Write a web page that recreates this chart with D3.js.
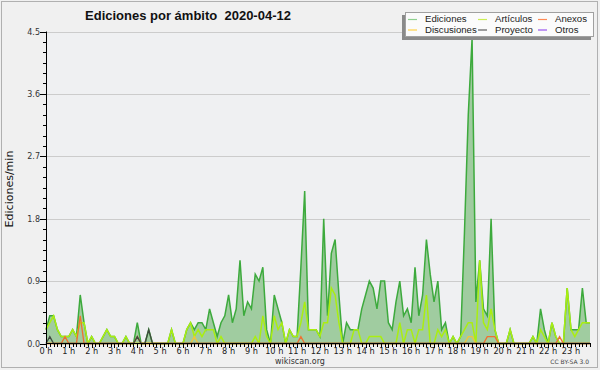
<!DOCTYPE html>
<html>
<head>
<meta charset="utf-8">
<script src="https://cdn.jsdelivr.net/npm/d3@7"></script>
<style>
  html, body { margin: 0; padding: 0; background: #f0f0f0; }
  svg { display: block; }
</style>
</head>
<body>
<svg id="chart" width="600" height="370"></svg>
<script>
// ---- data (edits per minute, 10-minute buckets, 144 per day) ----
const hourLabels = ["0 h","1 h","2 h","3 h","4 h","5 h","6 h","7 h","8 h","9 h","10 h","11 h","12 h","13 h","14 h","15 h","16 h","17 h","18 h","19 h","20 h","21 h","22 h","23 h"];
const yTicks = [0, 0.9, 1.8, 2.7, 3.6, 4.5];

const ediciones = [
0.2,0.4,0.4,0.2,0.1,0.1,0.1,0.2,0.1,0.7,0.3,0,
0.1,0,0,0.1,0.2,0.1,0.1,0,0,0.1,0,0,
0.3,0,0,0.2,0,0,0,0,0,0.2,0,0,
0,0.2,0.3,0.2,0.3,0.3,0.2,0.5,0.3,0.1,0.3,0.4,
0.7,0.3,0.5,1.2,0.4,0.6,0.5,1.0,0.9,1.1,0.2,0,
0.7,0.5,0.3,0,0.2,0.1,0.1,1.1,2.2,0.2,0.2,0.2,
0.1,1.8,0.4,1.3,1.5,0.7,0,0.3,0.2,0.2,0.2,0.5,
0.7,0.9,0.8,0.5,0.9,0.9,0.3,0.2,0.6,0.9,0.4,0.5,
0.3,1.1,0.4,0.7,1.5,1.0,0.6,0.9,0.2,0.3,0,0.1,
0,0.1,1.6,3.3,4.4,0.6,1.2,0.5,0.4,1.8,0.2,0,
0,0,0.2,0,0,0,0,0,0.1,0,0.5,0.2,
0,0.3,0.1,0,0,0.8,0.2,0.2,0.2,0.8,0.3,0.3
];
const articulos = [
0.2,0.3,0.4,0.2,0.1,0.1,0.1,0.2,0.1,0.3,0.3,0,
0.1,0,0,0.1,0.2,0.1,0.1,0,0,0.1,0,0,
0,0,0,0,0,0,0,0,0,0.2,0,0,
0,0.2,0.3,0.1,0.2,0.1,0.2,0.2,0.2,0,0.1,0,
0,0,0,0,0,0,0,0.1,0,0.4,0.1,0,
0.4,0.2,0.3,0,0.2,0.1,0.1,0.3,0.6,0.2,0.2,0.2,
0.1,0.3,0.3,0.8,0.7,0.3,0,0,0,0.2,0.2,0,
0,0.1,0.1,0.1,0.1,0,0,0,0,0.3,0,0.2,
0.2,0,0.2,0.2,0.7,0,0,0.2,0.1,0.2,0,0.1,
0,0.1,0.2,0.3,0.3,0,1.2,0.3,0.2,0.5,0.2,0,
0,0,0.2,0,0,0,0,0,0.1,0,0.2,0.1,
0,0.3,0.1,0,0,0.8,0.2,0.1,0.2,0.3,0.3,0.3
];
const anexos = [
0,0,0,0,0,0.1,0,0,0,0.4,0,0,
0,0,0,0,0,0,0,0,0,0,0,0,
0.1,0,0,0,0,0,0,0,0,0,0,0,
0,0,0,0,0,0,0,0,0,0,0,0,
0,0,0,0,0,0,0,0,0,0,0,0,
0,0,0,0,0,0,0,0.1,0,0,0,0,
0,0,0,0,0,0,0,0,0,0,0,0,
0,0,0,0,0,0,0,0,0,0,0,0,
0,0,0,0,0,0,0,0,0,0,0,0,
0,0,0,0,0,0,0,0,0.1,0.1,0.1,0,
0,0,0,0,0,0,0,0,0,0,0,0,
0,0,0,0.1,0,0,0,0,0,0,0,0
];
const discusiones = [
0,0,0,0,0,0,0,0,0,0,0,0,
0,0,0,0,0,0,0,0,0,0,0,0,
0,0,0,0,0,0,0,0,0,0,0,0,
0,0,0,0.1,0,0,0,0,0,0,0,0,
0,0,0,0,0,0,0,0,0,0,0,0,
0,0,0,0,0,0,0,0,0,0,0,0,
0,0,0,0,0,0,0,0,0,0,0,0,
0,0,0,0,0,0,0,0,0,0,0,0,
0,0,0,0,0,0,0,0,0,0,0,0,
0,0,0,0.1,0.1,0,0,0,0,0,0,0,
0,0,0,0,0,0,0,0,0,0,0,0,
0,0,0,0,0,0,0,0,0,0,0,0
];
const proyecto = [
0,0.1,0,0,0,0,0,0,0,0,0,0,
0,0,0,0,0,0,0,0,0,0,0,0,
0.1,0,0,0.2,0,0,0,0,0,0,0,0,
0,0,0,0,0,0,0,0,0,0,0,0,
0,0,0,0,0,0,0,0,0,0,0,0,
0,0,0,0,0,0,0,0,0,0,0,0,
0,0,0,0,0,0,0,0,0,0,0,0,
0,0,0,0,0,0,0,0,0,0,0,0,
0,0,0,0,0,0,0,0,0,0,0,0,
0,0,0,0,0,0,0,0,0,0,0,0,
0,0,0,0,0,0,0,0,0,0,0,0,
0,0,0,0,0,0,0,0,0,0,0,0
];
const otros = new Array(144).fill(0);

const seriesNames = ["Ediciones","Artículos","Anexos","Discusiones","Proyecto","Otros"];

// ---- drawing ----
const svg = d3.select("#chart");
const W = 600, H = 370;
const pLeft = 46, pRight = 590, pTop = 31.5, pBottom = 343.5;

svg.append("rect").attr("x",0).attr("y",0).attr("width",W).attr("height",H).attr("fill","#f0f0f0");
svg.append("rect").attr("x",1.5).attr("y",1.5).attr("width",596).attr("height",366)
  .attr("fill","none").attr("stroke","#b0b0b0");

const x = d3.scaleLinear().domain([0, 143]).range([pLeft, pRight]);
const y = d3.scaleLinear().domain([0, 4.5]).range([pBottom, pTop]);

// plot background
svg.append("rect").attr("x",pLeft).attr("y",pTop).attr("width",pRight-pLeft).attr("height",pBottom-pTop)
  .attr("fill","#eff0f2");

// gridlines
svg.append("g").selectAll("line").data(yTicks.filter(d=>d>0)).join("line")
  .attr("x1",pLeft).attr("x2",pRight)
  .attr("y1",d=>Math.round(y(d))+0.5).attr("y2",d=>Math.round(y(d))+0.5)
  .attr("stroke","#cccccc").attr("stroke-width",1);

const idx = d3.range(144);
const area = d3.area().x(i=>x(i)).y0(y(0)).y1(i=>y(ediciones[i]));
svg.append("path").datum(idx).attr("d",area).attr("fill","#a0cca0").attr("fill-opacity",1);

function line(arr){ return d3.line().x(i=>x(i)).y(i=>y(arr[i]))(idx); }
const styles = [
  {arr: ediciones, color:"#3daa3d", w:1.5},
  {arr: articulos, color:"#aaee11", w:1.5},
  {arr: discusiones, color:"#f2c43a", w:1.3},
  {arr: anexos, color:"#f07030", w:1.3},
  {arr: proyecto, color:"#3f4a3f", w:1.3},
  {arr: otros, color:"#9944ee", w:1.0}
];
styles.forEach(s=>{
  svg.append("path").attr("d",line(s.arr)).attr("fill","none")
    .attr("stroke",s.color).attr("stroke-width",s.w).attr("stroke-linejoin","miter");
});

// y axis
const yAxisG = svg.append("g");
yAxisG.append("line").attr("x1",pLeft+0.5).attr("x2",pLeft+0.5).attr("y1",pTop).attr("y2",pBottom)
  .attr("stroke","#000");
const minorY = d3.range(0, 31).map(k=>k*0.15);
yAxisG.selectAll(".mn").data(minorY).join("line")
  .attr("x1",pLeft-3).attr("x2",pLeft)
  .attr("y1",d=>Math.round(y(d))+0.5).attr("y2",d=>Math.round(y(d))+0.5)
  .attr("stroke","#000");
yAxisG.selectAll(".mj").data(yTicks).join("line")
  .attr("x1",pLeft-6).attr("x2",pLeft)
  .attr("y1",d=>Math.round(y(d))+0.5).attr("y2",d=>Math.round(y(d))+0.5)
  .attr("stroke","#000");
yAxisG.selectAll("text").data(yTicks).join("text")
  .attr("x",pLeft-6).attr("y",d=>y(d)+0.5)
  .attr("text-anchor","end").attr("dominant-baseline","middle")
  .attr("font-family","DejaVu Sans").attr("font-size",8).attr("fill","#333")
  .text(d=>d.toFixed(1));

// x axis
const xAxisG = svg.append("g");
xAxisG.append("line").attr("x1",pLeft).attr("x2",pRight+1).attr("y1",pBottom).attr("y2",pBottom)
  .attr("stroke","#000").attr("stroke-width",1.2);
xAxisG.selectAll(".t").data(idx).join("line")
  .attr("x1",i=>Math.round(x(i))+0.5).attr("x2",i=>Math.round(x(i))+0.5)
  .attr("y1",pBottom).attr("y2",i=> i%6===0 ? pBottom+4.5 : pBottom+3.5)
  .attr("stroke","#000");
xAxisG.selectAll("text").data(hourLabels).join("text")
  .attr("x",(d,k)=>x(k*6)).attr("y",353.5)
  .attr("text-anchor","middle")
  .attr("font-family","DejaVu Sans").attr("font-size",8.2).attr("fill","#222")
  .text(d=>d);

// title
svg.append("text").attr("x",188).attr("y",19.5).attr("text-anchor","middle")
  .style("white-space","pre")
  .attr("font-family","Liberation Sans").attr("font-weight","bold").attr("font-size",13)
  .attr("fill","#111").text("Ediciones por ámbito\u00a0\u00a02020-04-12");

// y label
svg.append("text").attr("transform","translate(13,189) rotate(-90)")
  .attr("text-anchor","middle").attr("font-family","DejaVu Sans").attr("font-size",11)
  .attr("fill","#111").text("Ediciones/min");

// footer
svg.append("text").attr("x",300).attr("y",363.5).attr("text-anchor","middle")
  .attr("font-family","DejaVu Sans").attr("font-size",8).attr("fill","#333").text("wikiscan.org");
svg.append("text").attr("x",589).attr("y",364).attr("text-anchor","end")
  .attr("font-family","DejaVu Sans").attr("font-size",6).attr("fill","#444").text("CC BY-SA 3.0");

// legend
const lg = svg.append("g");
lg.append("rect").attr("x",402).attr("y",15).attr("width",189).attr("height",25).attr("fill","#8a8a8a");
lg.append("rect").attr("x",405.5).attr("y",12.5).attr("width",188).attr("height",24)
  .attr("fill","#fbfbfb").attr("stroke","#a0a0a0");
const legendColors = ["#8fd08f","#ccee55","#ff8a55","#ffd24a","#606060","#9955ee"];
const colX = [408, 478, 538];
const rowY = [19.5, 30];
seriesNames.forEach((name,k)=>{
  const c = k%3, r = Math.floor(k/3);
  lg.append("line").attr("x1",colX[c]).attr("x2",colX[c]+9)
    .attr("y1",rowY[r]).attr("y2",rowY[r]).attr("stroke",legendColors[k]).attr("stroke-width",1.2);
  lg.append("text").attr("x",colX[c]+17).attr("y",rowY[r]).attr("dominant-baseline","middle")
    .attr("font-family","Liberation Sans").attr("font-size",9.6).attr("fill","#222").text(name);
});
</script>
</body>
</html>
